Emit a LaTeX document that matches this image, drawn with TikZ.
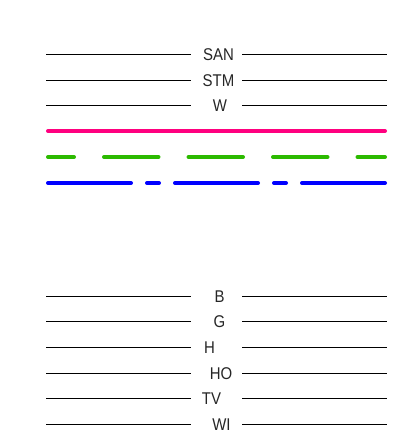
\documentclass[tikz,border=0pt]{standalone}
\usepackage{fontspec}
\setmainfont[FakeStretch=0.88]{Liberation Sans}
\definecolor{lnPink}{RGB}{255, 0, 127}
\definecolor{lnGreen}{RGB}{44, 186, 0}
\definecolor{lnBlue}{RGB}{0, 0, 255}
\usetikzlibrary{calc}
\tikzset{
  lbl/.style={inner sep=0pt, font=\fontsize{17}{17}\selectfont, text height=12.2pt, text depth=0pt, anchor=center, text=black!85},
  rowline/.style={line width=0.9pt, black},
  thickline/.style={line width=4pt, line cap=round, #1},
  thickline/.default=lnPink,
}
\begin{document}
\begin{tikzpicture}[x=1pt, y=-1pt]
  \useasboundingbox (0,0) rectangle (415,439);

  % gap edges for the labelled rows
  \coordinate (gapL) at (191,0);
  \coordinate (gapR) at (242,0);

  % Upper labelled rows
  \coordinate (sanL) at (46,54);  \coordinate (sanR) at (387,54);
  \coordinate (stmL) at (46,80);  \coordinate (stmR) at (387,80);
  \coordinate (wL) at (46,105);   \coordinate (wR) at (387,105);
  \node[lbl] (san) at (218.5,54) {SAN};
  \node[lbl] (stm) at (218.5,80) {STM};
  \node[lbl] (w) at (220,105) {W};

  % Coloured lines
  \coordinate (pinkL) at (48,131);  \coordinate (pinkR) at (385,131);
  \coordinate (greenL) at (48,157); \coordinate (greenR) at (385,157);
  \coordinate (blueL) at (48,183);  \coordinate (blueR) at (385,183);

  % Lower labelled rows
  \coordinate (bL) at (46,296);  \coordinate (bR) at (387,296);
  \coordinate (gL) at (46,321);  \coordinate (gR) at (387,321);
  \coordinate (hL) at (46,347);  \coordinate (hR) at (387,347);
  \coordinate (hoL) at (46,373); \coordinate (hoR) at (387,373);
  \coordinate (tvL) at (46,398); \coordinate (tvR) at (387,398);
  \coordinate (wiL) at (46,424); \coordinate (wiR) at (387,424);
  \node[lbl] (b) at (219.5,296) {B};
  \node[lbl] (g) at (219.5,321) {G};
  \node[lbl] (h) at (209.5,347) {H};
  \node[lbl] (ho) at (221,373) {HO};
  \node[lbl] (tv) at (211.5,398) {TV};
  \node[lbl] (wi) at (221.5,424) {WI};

  % Row lines
  \draw[rowline] (sanL) -- (sanL -| gapL); \draw[rowline] (sanR -| gapR) -- (sanR);
  \draw[rowline] (stmL) -- (stmL -| gapL); \draw[rowline] (stmR -| gapR) -- (stmR);
  \draw[rowline] (wL) -- (wL -| gapL);     \draw[rowline] (wR -| gapR) -- (wR);
  \draw[rowline] (bL) -- (bL -| gapL);     \draw[rowline] (bR -| gapR) -- (bR);
  \draw[rowline] (gL) -- (gL -| gapL);     \draw[rowline] (gR -| gapR) -- (gR);
  \draw[rowline] (hL) -- (hL -| gapL);     \draw[rowline] (hR -| gapR) -- (hR);
  \draw[rowline] (hoL) -- (hoL -| gapL);   \draw[rowline] (hoR -| gapR) -- (hoR);
  \draw[rowline] (tvL) -- (tvL -| gapL);   \draw[rowline] (tvR -| gapR) -- (tvR);
  \draw[rowline] (wiL) -- (wiL -| gapL);   \draw[rowline] (wiR -| gapR) -- (wiR);

  \draw[thickline=lnPink] (pinkL) -- (pinkR);
  \draw[thickline=lnGreen, dash pattern=on 54.5pt off 30pt, dash phase=28.5pt] (greenL) -- (greenR);
  \draw[thickline=lnBlue, dash pattern=on 83pt off 16pt on 12pt off 16pt] (blueL) -- (blueR);
\end{tikzpicture}
\end{document}
